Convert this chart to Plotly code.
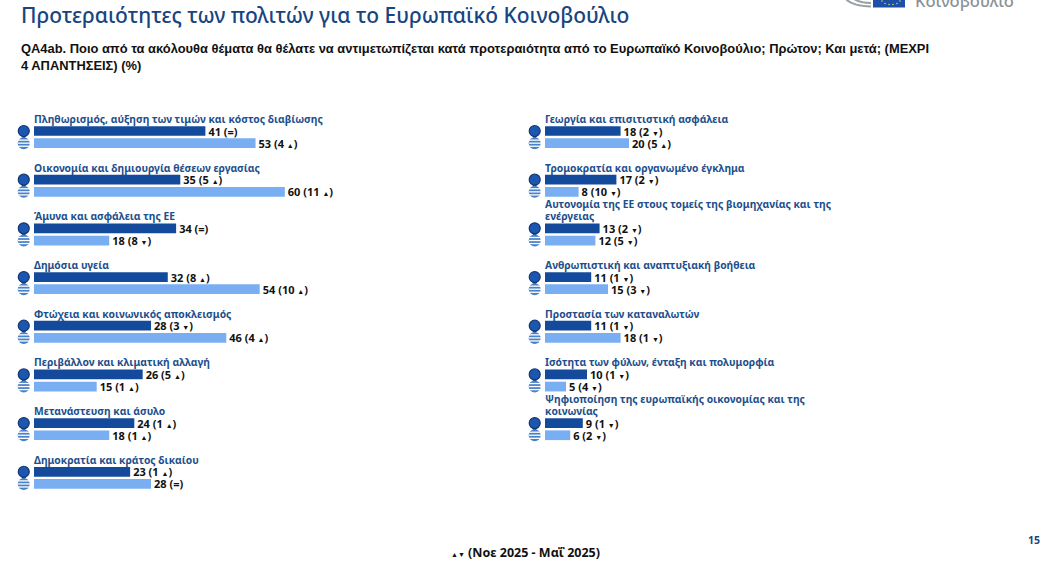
import plotly.graph_objects as go

left_topics = ["Πληθωρισμός, αύξηση των τιμών και κόστος διαβίωσης", "Οικονομία και δημιουργία θέσεων εργασίας",
    "Άμυνα και ασφάλεια της ΕΕ", "Δημόσια υγεία", "Φτώχεια και κοινωνικός αποκλεισμός",
    "Περιβάλλον και κλιματική αλλαγή", "Μετανάστευση και άσυλο", "Δημοκρατία και κράτος δικαίου"]
left_eu = [41, 35, 34, 32, 28, 26, 24, 23]
left_eu_change = ["=", "5 ▲", "=", "8 ▲", "3 ▼", "5 ▲", "1 ▲", "1 ▲"]
left_gr = [53, 60, 18, 54, 46, 15, 18, 28]
left_gr_change = ["4 ▲", "11 ▲", "8 ▼", "10 ▲", "4 ▲", "1 ▲", "1 ▲", "="]

right_topics = ["Γεωργία και επισιτιστική ασφάλεια", "Τρομοκρατία και οργανωμένο έγκλημα",
    "Αυτονομία της ΕΕ στους τομείς της βιομηχανίας και της<br>ενέργειας", "Ανθρωπιστική και αναπτυξιακή βοήθεια",
    "Προστασία των καταναλωτών", "Ισότητα των φύλων, ένταξη και πολυμορφία",
    "Ψηφιοποίηση της ευρωπαϊκής οικονομίας και της<br>κοινωνίας"]
right_eu = [18, 17, 13, 11, 11, 10, 9]
right_eu_change = ["2 ▼", "2 ▼", "2 ▼", "1 ▼", "1 ▼", "1 ▼", "1 ▼"]
right_gr = [20, 8, 12, 15, 18, 5, 6]
right_gr_change = ["5 ▲", "10 ▼", "5 ▼", "3 ▼", "1 ▼", "4 ▼", "2 ▼"]

EU_C, GR_C, LABEL_C, TXT = "#134a9b", "#7aaef2", "#1d4f8c", "#111111"
VAL_FONT = dict(family="Noto Sans", size=11, color=TXT, weight=700)
LAB_FONT = dict(family="Noto Sans", size=10.3, color=LABEL_C, weight=700)

def fmt(v, c):
    c = c.replace("▲", '<span style="font-size:7px">▲</span>').replace("▼", '<span style="font-size:7px">▼</span>')
    return f"{v} ({c})"

fig = go.Figure()
annotations = []
for xa, ya, topics, eu, euc, gr, grc, icon_x in [
    ("x", "y", left_topics, left_eu, left_eu_change, left_gr, left_gr_change, -2.45),
    ("x2", "y", right_topics, right_eu, right_eu_change, right_gr, right_gr_change, -2.45)]:
    n = len(topics)
    eu_rows = [4 * i for i in range(n)]
    gr_rows = [4 * i + 1 for i in range(n)]
    for vals, chg, rows, col in [(eu, euc, eu_rows, EU_C), (gr, grc, gr_rows, GR_C)]:
        fig.add_trace(go.Bar(x=vals, y=rows, orientation="h", xaxis=xa, yaxis=ya, width=0.8,
            marker=dict(color=col, line_width=0), text=[fmt(v, c) for v, c in zip(vals, chg)],
            textposition="outside", textfont=VAL_FONT, constraintext="none", cliponaxis=False,
            showlegend=False, hoverinfo="skip"))
    # EU pin
    fig.add_trace(go.Scatter(x=[icon_x] * n, y=[r + 0.4 for r in eu_rows], xaxis=xa, yaxis=ya, mode="markers",
        marker=dict(symbol="triangle-down", size=7, color="#12418c"), showlegend=False, hoverinfo="skip"))
    fig.add_trace(go.Scatter(x=[icon_x] * n, y=eu_rows, xaxis=xa, yaxis=ya, mode="markers",
        marker=dict(symbol="circle", size=11, color="#1c56b0", line=dict(color="#12366f", width=1.2)),
        showlegend=False, hoverinfo="skip"))
    # Greek flag
    fig.add_trace(go.Scatter(x=[icon_x] * n, y=gr_rows, xaxis=xa, yaxis=ya, mode="markers",
        marker=dict(symbol="circle", size=12, color="#4a82c8"), showlegend=False, hoverinfo="skip"))
    for off in (-0.25, 0.0, 0.25):
        fig.add_trace(go.Scatter(x=[icon_x + 0.3] * n, y=[r + off for r in gr_rows], xaxis=xa, yaxis=ya, mode="markers",
            marker=dict(symbol="line-ew", size=10, line=dict(color="white", width=1.3)),
            showlegend=False, hoverinfo="skip"))
    for i, t in enumerate(topics):
        lines = t.split("<br>")
        for k, line in enumerate(reversed(lines)):
            annotations.append(dict(x=0, y=4 * i - 1 - k, xref=xa, yref=ya, text=line, showarrow=False, xanchor="left",
                yanchor="middle", align="left", font=LAB_FONT, borderpad=0, borderwidth=0))

def px(x): return x / 1042
def py(y): return 1 - y / 563

annotations += [
    dict(x=px(19), y=py(15), xref="paper", yref="paper", xanchor="left", yanchor="middle", showarrow=False,
         text="Προτεραιότητες των πολιτών για το Ευρωπαϊκό Κοινοβούλιο",
         font=dict(family="Noto Sans", size=21, color="#17457f", weight=500)),
    dict(x=px(19), y=py(57), xref="paper", yref="paper", xanchor="left", yanchor="middle", align="left", showarrow=False,
         text="QA4ab. Ποιο από τα ακόλουθα θέματα θα θέλατε να αντιμετωπίζεται κατά προτεραιότητα από το Ευρωπαϊκό Κοινοβούλιο; Πρώτον; Και μετά; (ΜΕΧΡΙ<br>4 ΑΠΑΝΤΗΣΕΙΣ) (%)",
         font=dict(family="Liberation Sans", size=12.9, color="#111111", weight=700)),
    dict(x=px(525), y=py(552), xref="paper", yref="paper", xanchor="center", yanchor="middle", showarrow=False,
         text='<span style="font-size:7px">▲▼</span> (Νοε 2025 - Μαΐ 2025)',
         font=dict(family="Noto Sans", size=12.5, color="#111111", weight=700)),
    dict(x=px(1042), y=py(540), xref="paper", yref="paper", xanchor="right", yanchor="middle", showarrow=False,
         text="15", font=dict(family="Noto Sans", size=10.5, color="#17457f", weight=700)),
    dict(x=px(913), y=py(0), xref="paper", yref="paper", xanchor="left", yanchor="middle", showarrow=False,
         text="Κοινοβούλιο", font=dict(family="Noto Sans", size=16.5, color="#8a9299", weight=500)),
]

shapes = [
    dict(type="rect", xref="paper", yref="paper", x0=px(873), x1=px(905), y0=py(7.5), y1=py(-2),
         fillcolor="#1c4fa8", line_width=0),
    dict(type="path", xref="paper", yref="paper", line=dict(color="#9aa1a6", width=2),
         path=f"M {px(846)} {py(-1)} Q {px(852)} {py(6)} {px(871)} {py(6.5)}"),
    dict(type="path", xref="paper", yref="paper", line=dict(color="#9aa1a6", width=2),
         path=f"M {px(854)} {py(-1)} Q {px(860)} {py(3)} {px(871)} {py(3)}"),
]
for sx, sy in [(882, 1), (885, 3.5), (889, 4.5), (893, 4.5), (897, 3.5), (900, 1)]:
    shapes.append(dict(type="circle", xref="paper", yref="paper", x0=px(sx - 0.8), x1=px(sx + 0.8),
                       y0=py(sy + 0.8), y1=py(sy - 0.8), fillcolor="#e8d44a", line_width=0))

row_per_px = 1 / 12.17
L_SCALE, R_SCALE = 4.18, 4.2
fig.update_layout(
    width=1042, height=563, autosize=False, margin=dict(l=0, r=0, t=0, b=0),
    paper_bgcolor="white", plot_bgcolor="white", annotations=annotations, shapes=shapes, barmode="overlay",
    xaxis=dict(domain=[0, 0.5], range=[-34 / L_SCALE, (521 - 34) / L_SCALE], visible=False),
    xaxis2=dict(domain=[0.5, 1], range=[-24 / R_SCALE, (521 - 24) / R_SCALE], visible=False),
    yaxis=dict(range=[(563 - 131) * row_per_px, -131 * row_per_px], visible=False),
)
fig.write_html("out.html", config=dict(displayModeBar=False), post_script="document.body.style.margin='0';")
